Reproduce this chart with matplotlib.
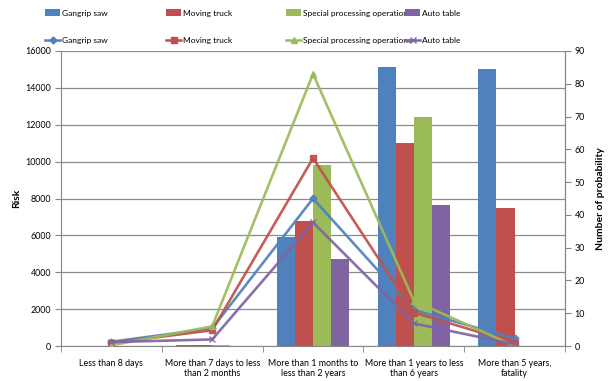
import numpy as np
import matplotlib.pyplot as plt
from matplotlib.patches import Patch
from matplotlib.lines import Line2D

plt.rcParams["font.family"] = ["Lato", "DejaVu Sans"]

CATEGORIES = [
    "Less than 8 days",
    "More than 7 days to less\nthan 2 months",
    "More than 1 months to\nless than 2 years",
    "More than 1 years to less\nthan 6 years",
    "More than 5 years,\nfatality",
]
SERIES = ["Gangrip saw", "Moving truck", "Special processing operations", "Auto table"]

# risk values (bars, left axis)
risk_gangrip = [10, 50, 5900, 15150, 15000]
risk_truck = [10, 60, 6800, 11000, 7500]
risk_special = [10, 60, 9800, 12400, 0]
risk_auto = [10, 0, 4700, 7650, 0]

# number of probability (lines, right axis)
prob_gangrip = [1.3, 5.4, 45, 11, 2.3]
prob_truck = [0.9, 4.8, 57.3, 10.2, 1.0]
prob_special = [0.2, 6.0, 83, 13.8, 0.0]
prob_auto = [1.2, 2.0, 37.7, 6.9, 0.5]

COLORS = ["#4F81BD", "#C0504D", "#9BBB59", "#8064A2"]
MARKERS = ["D", "s", "^", "x"]
GRID = "#8c8c8c"
SPINE = "#868686"
FS = 6.4
LEG_FS = 6.0

fig = plt.figure(figsize=(6.09, 3.81), dpi=100)
ax = fig.add_axes([61 / 609, 1 - 346 / 381, (565 - 61) / 609, (346 - 51) / 381])
ax2 = ax.twinx()

x = np.arange(len(CATEGORIES))
width = 0.18
risks = [risk_gangrip, risk_truck, risk_special, risk_auto]
probs = [prob_gangrip, prob_truck, prob_special, prob_auto]

for i, vals in enumerate(risks):
    ax.bar(x + (i - 1.5) * width, vals, width=width, color=COLORS[i], zorder=2)

for i, vals in enumerate(probs):
    ms = 5 if MARKERS[i] != "D" else 3.5
    ax2.plot(x, vals, color=COLORS[i], lw=1.9, marker=MARKERS[i], markersize=ms,
             markeredgewidth=1.0, alpha=0.92)

ax.set_xlim(-0.5, len(CATEGORIES) - 0.5)
ax.set_ylim(0, 16000)
ax.set_yticks(np.arange(0, 16001, 2000))
ax2.set_ylim(0, 90)
ax2.set_yticks(np.arange(0, 91, 10))

ax.set_xticks(x)
ax.set_xticklabels(CATEGORIES, fontsize=FS)
ax.set_xticks(np.arange(-0.5, len(CATEGORIES), 1.0), minor=True)
ax.tick_params(axis="x", which="major", length=0, pad=9)
ax.tick_params(axis="x", which="minor", length=4, color=SPINE)
ax.tick_params(axis="y", labelsize=FS, length=4, color=SPINE, pad=3)
ax2.tick_params(axis="y", labelsize=FS, length=4, color=SPINE, pad=3)

ax.grid(axis="y", color=GRID, lw=0.9, zorder=0)
ax.set_axisbelow(True)

for a in (ax, ax2):
    a.spines["top"].set_visible(False)
    for s in ("left", "right", "bottom"):
        a.spines[s].set_color(SPINE)
ax2.spines["left"].set_visible(False)
ax2.spines["bottom"].set_visible(False)

ax.set_ylabel("Risk", fontsize=7.5, fontweight="bold", labelpad=3)
ax2.set_ylabel("Number of probability", fontsize=7.5, fontweight="bold", labelpad=8)

# legend: one small block per series, bar patch above its line
legend_x = [45, 166, 286, 405]
for i, name in enumerate(SERIES):
    handles = [
        Patch(facecolor=COLORS[i], edgecolor="none"),
        Line2D([], [], color=COLORS[i], lw=1.8, marker=MARKERS[i],
               markersize=5 if MARKERS[i] != "D" else 3.5),
    ]
    fig.legend(handles, [name, name], loc="upper left",
               bbox_to_anchor=(legend_x[i] / 609, 1 - 9 / 381),
               frameon=False, fontsize=LEG_FS, borderpad=0, borderaxespad=0,
               handlelength=1.85, handletextpad=0.2, labelspacing=2.4,
               handleheight=1.0)

fig.savefig("out.png", dpi=100)
